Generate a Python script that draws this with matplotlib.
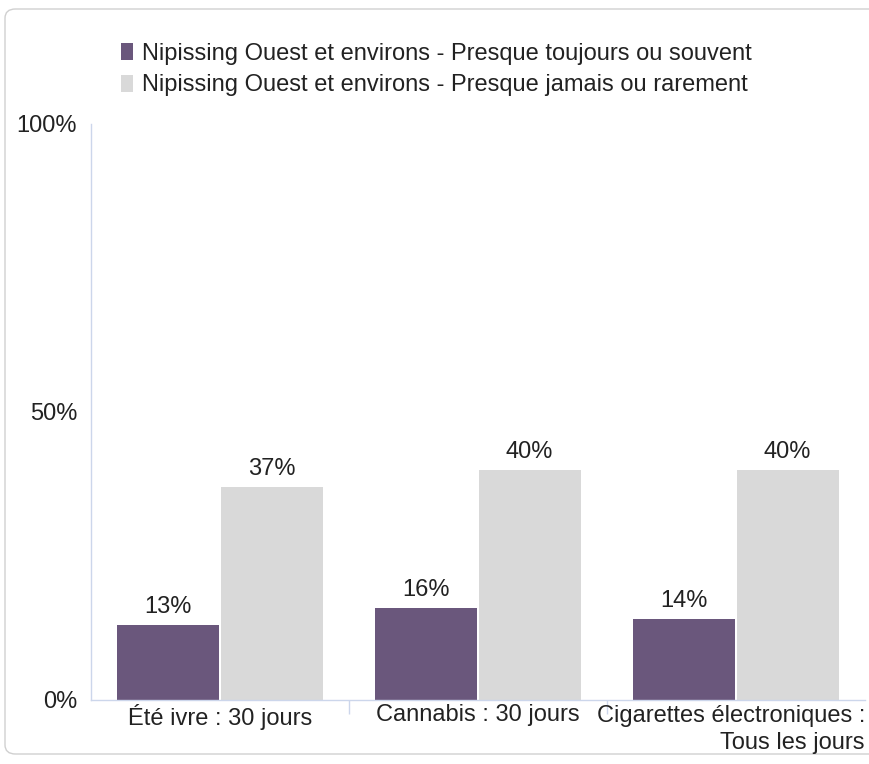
import matplotlib
matplotlib.use("Agg")
import matplotlib.pyplot as plt
from matplotlib.patches import FancyBboxPatch, Patch
import numpy as np

plt.rcParams["font.family"] = ["Liberation Sans", "DejaVu Sans"]

# Data
categories = ["Été ivre : 30 jours", "Cannabis : 30 jours", "Cigarettes électroniques :\nTous les jours"]
series_names = [
    "Nipissing Ouest et environs - Presque toujours ou souvent",
    "Nipissing Ouest et environs - Presque jamais ou rarement",
]
often = [13, 16, 14]
rarely = [37, 40, 40]
y_ticks = [0, 50, 100]

purple = "#6a577c"
grey = "#d9d9d9"
axis_col = "#ccd6eb"
text_col = "#222222"
fs = 17

W, H = 869, 764
fig = plt.figure(figsize=(W / 100, H / 100), dpi=100)

# outer rounded frame
frame = FancyBboxPatch(
    (5 / W, 10 / H), 880 / W, 745 / H,
    boxstyle="round,pad=0,rounding_size=0.012",
    transform=fig.transFigure, facecolor="none", edgecolor="#d0d0d0", linewidth=1,
    zorder=-1,
)
fig.patches.append(frame)

ax = fig.add_axes([91 / W, 1 - 700 / H, 774 / W, 576 / H])
ax.set_facecolor("none")

x = np.arange(len(categories))
width = 0.395
b1 = ax.bar(x - 0.2, often, width, color=purple, label=series_names[0])
b2 = ax.bar(x + 0.2, rarely, width, color=grey, label=series_names[1])

for bars, vals in ((b1, often), (b2, rarely)):
    for bar, v in zip(bars, vals):
        ax.annotate(
            f"{v}%", (bar.get_x() + bar.get_width() / 2, v),
            xytext=(0, 5), textcoords="offset points",
            ha="center", va="bottom", fontsize=fs, color=text_col,
        )

ax.set_xlim(-0.5, len(categories) - 0.5)
ax.set_ylim(0, 100)
ax.set_yticks(y_ticks)
ax.set_yticklabels([f"{t}%" for t in y_ticks])
ax.tick_params(axis="y", length=0, pad=10, labelsize=fs, labelcolor=text_col)

# category boundary ticks
ax.set_xticks([0.5, 1.5])
ax.set_xticklabels([])
ax.tick_params(axis="x", which="major", length=10, color=axis_col, width=1)
ax.set_xticks(x, minor=True)
ax.set_xticklabels(categories[:2] + [""], minor=True)
ax.tick_params(axis="x", which="minor", length=0, pad=3, labelsize=fs, labelcolor=text_col)

# last label overflows to the right edge, right-aligned
ax.text(1.0, -0.008, categories[2], transform=ax.transAxes, ha="right", va="top",
        fontsize=fs, color=text_col, multialignment="right", linespacing=1.3)

for side in ("top", "right"):
    ax.spines[side].set_visible(False)
for side in ("left", "bottom"):
    ax.spines[side].set_color(axis_col)
    ax.spines[side].set_linewidth(1)

handles = [Patch(facecolor=purple), Patch(facecolor=grey)]
fig.legend(
    handles, series_names, loc="upper left", bbox_to_anchor=(121 / W, 1 - 43 / H),
    frameon=False, fontsize=fs, handlelength=0.5, handleheight=0.75,
    handletextpad=0.4, labelspacing=0.4, borderaxespad=0, borderpad=0,
    labelcolor=text_col,
)

fig.savefig("out.png", dpi=100)
